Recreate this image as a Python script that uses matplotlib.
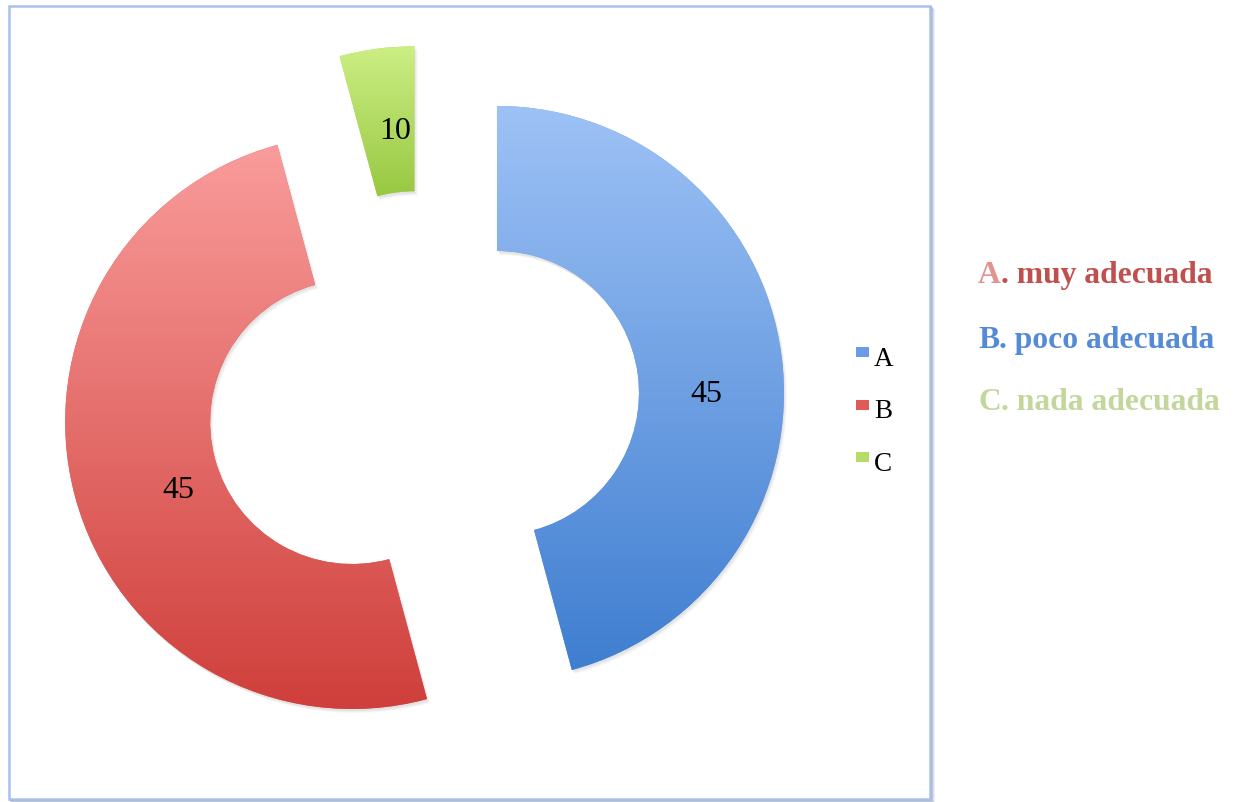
import numpy as np
import matplotlib
matplotlib.use("Agg")
import matplotlib.pyplot as plt
from matplotlib.patches import Rectangle, PathPatch
from matplotlib.colors import to_rgb
from matplotlib.transforms import Affine2D

# ---------------- data ----------------
categories = ["A", "B", "C"]
# share of the ring each slice occupies (%)
shares = [45.8, 50.0, 4.2]
# data labels printed on the slices
data_labels = ["45", "45", "10"]
side_labels_head = ["A", "B", "C"]
side_labels_tail = [". muy adecuada", ". poco adecuada", ". nada adecuada"]

# ---------------- style ----------------
W, H = 1236, 803
top_colors = ["#9EC2F6", "#F99C9B", "#CCEE84"]
bot_colors = ["#3F7ED0", "#CF3F3B", "#98C842"]
mid_colors = ["#6EA0E3", "#E06461", "#B3DA63"]
legend_colors = ["#6A9BE3", "#E05A58", "#B5DC66"]

fig = plt.figure(figsize=(W / 100, H / 100), dpi=100)
ax = fig.add_axes([0, 0, 1, 1])


def Y(py):
    return H - py


center = (423.6, Y(403.7))
R = 287
ring_w = 145
explode = [74, 74, 70]

wedges, _ = ax.pie(
    shares, radius=R, center=center, startangle=90, counterclock=False,
    explode=explode, colors=mid_colors,
    wedgeprops=dict(width=ring_w, linewidth=0, antialiased=True),
)

for i, w in enumerate(wedges):
    w.set_zorder(2)
    # soft shadow
    for dx, dy, a in [(3, -4, 0.05), (2, -3, 0.06), (1, -2, 0.07)]:
        sp = PathPatch(w.get_path(), transform=Affine2D().translate(dx, dy) + ax.transData,
                       facecolor="#606060", edgecolor="none", alpha=a, zorder=1)
        ax.add_patch(sp)
    ext = w.get_path().get_extents()
    n = 256
    t = np.linspace(0, 1, n)[:, None]
    c0 = np.array(to_rgb(top_colors[i]))
    c1 = np.array(to_rgb(bot_colors[i]))
    grad = (c0[None, :] * (1 - t) + c1[None, :] * t)[:, None, :]
    grad = np.repeat(grad, 4, axis=1)
    im = ax.imshow(grad, extent=(ext.x0, ext.x1, ext.y0, ext.y1), origin="upper",
                   interpolation="bilinear", zorder=3, aspect="auto")
    im.set_clip_path(w)

# data labels
label_xy = [(706, 402.5), (178, 498.5), (395, 139)]
for lab, (px, py) in zip(data_labels, label_xy):
    ax.text(px, Y(py), lab, ha="center", va="baseline", fontsize=23,
            family="Liberation Serif", color="black", zorder=5)

# legend (inside chart frame)
for i, cat in enumerate(categories):
    cy = 353 + i * 52.5
    ax.add_patch(Rectangle((856, Y(cy + 5)), 13, 10, facecolor=legend_colors[i],
                           edgecolor="none", zorder=5))
    ax.text(874, Y(cy + 13), cat, ha="left", va="baseline", fontsize=19.5,
            family="Liberation Serif", color="black", zorder=5)

# chart frame with shadow
for k, a in enumerate([0.10, 0.18, 0.30, 0.45]):
    off = 4 - k
    ax.add_patch(Rectangle((9 + off, Y(800) - off), 921, 793, facecolor="none",
                           edgecolor="#6F85AA", lw=1.5, alpha=a, zorder=0))
ax.add_patch(Rectangle((9, Y(800)), 921, 793, facecolor="white",
                       edgecolor="#A9C0EA", lw=1.8, zorder=0.5))

# side texts
side_head_colors = ["#E39391", "#558BD6", "#C3D69B"]
side_tail_colors = ["#C0504D", "#558BD6", "#C3D69B"]
baselines = [283, 348, 410]
for i in range(3):
    t1 = ax.text(978, Y(baselines[i]), side_labels_head[i], ha="left", va="baseline",
                 fontsize=22.8, family="Liberation Serif", fontweight="bold",
                 color=side_head_colors[i])
    ax.annotate(side_labels_tail[i], xy=(1, 0), xycoords=t1, ha="left", va="bottom",
                fontsize=22.8, family="Liberation Serif", fontweight="bold",
                color=side_tail_colors[i])

ax.set_xlim(0, W)
ax.set_ylim(0, H)
ax.set_aspect("auto")
ax.axis("off")

fig.savefig("out.png", dpi=100, facecolor="white")
